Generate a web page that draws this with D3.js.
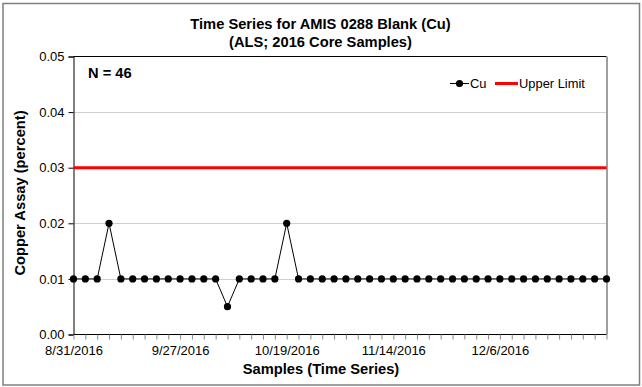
<!DOCTYPE html>
<html>
<head>
<meta charset="utf-8">
<script src="https://cdn.jsdelivr.net/npm/d3@7"></script>
<style>
  html, body { margin: 0; padding: 0; background: #fff; }
  svg { display: block; font-family: Arial, "Liberation Sans", sans-serif; }
</style>
</head>
<body>
<svg id="chart" width="642" height="387"></svg>
<script>
// ---- data ----
const chartTitle = ["Time Series for AMIS 0288 Blank (Cu)", "(ALS; 2016 Core Samples)"];
const xAxisTitle = "Samples (Time Series)";
const yAxisTitle = "Copper Assay (percent)";
const nLabel = "N = 46";
const seriesNames = ["Cu", "Upper Limit"];
const cuValues = [
  0.01, 0.01, 0.01, 0.02, 0.01, 0.01, 0.01, 0.01, 0.01, 0.01,
  0.01, 0.01, 0.01, 0.005, 0.01, 0.01, 0.01, 0.01, 0.02, 0.01,
  0.01, 0.01, 0.01, 0.01, 0.01, 0.01, 0.01, 0.01, 0.01, 0.01,
  0.01, 0.01, 0.01, 0.01, 0.01, 0.01, 0.01, 0.01, 0.01, 0.01,
  0.01, 0.01, 0.01, 0.01, 0.01, 0.01
];
const upperLimitValue = 0.03;
const xTickLabels = ["8/31/2016", "9/27/2016", "10/19/2016", "11/14/2016", "12/6/2016"];
const xLabelEvery = 9;
const yTicks = [0, 0.01, 0.02, 0.03, 0.04, 0.05];

// ---- layout ----
const W = 642, H = 387;
const plot = { left: 73.5, right: 606.5, top: 56.5, bottom: 334.5 };

const svg = d3.select("#chart");

// outer border
svg.append("rect")
  .attr("x", 3).attr("y", 3.5).attr("width", 636.5).attr("height", 381.5)
  .attr("fill", "#fff").attr("stroke", "#7f7f7f").attr("stroke-width", 1.5);

const indices = cuValues.map((d, i) => i);
const x = d3.scalePoint().domain(indices).range([plot.left, plot.right]);
const y = d3.scaleLinear().domain([0, 0.05]).range([plot.bottom, plot.top]);

// gridlines
svg.append("g").selectAll("line")
  .data(yTicks.filter(t => t > 0 && t < 0.05))
  .join("line")
  .attr("x1", plot.left).attr("x2", plot.right)
  .attr("y1", d => Math.round(y(d)) + 0.5).attr("y2", d => Math.round(y(d)) + 0.5)
  .attr("stroke", "#d0d0d0").attr("stroke-width", 1);

// plot border (top/right)
svg.append("line").attr("x1", plot.left).attr("x2", plot.right)
  .attr("y1", plot.top).attr("y2", plot.top).attr("stroke", "#000").attr("stroke-width", 1);
svg.append("line").attr("x1", plot.right + 0.5).attr("x2", plot.right + 0.5)
  .attr("y1", plot.top).attr("y2", plot.bottom).attr("stroke", "#7f7f7f").attr("stroke-width", 1.5);

// y axis
const yAxis = d3.axisLeft(y).tickValues(yTicks).tickFormat(d3.format(".2f")).tickSize(5).tickPadding(4);
const gy = svg.append("g").attr("transform", `translate(${plot.left},0)`).call(yAxis);
gy.select(".domain").attr("stroke", "#000");
gy.selectAll(".tick line").attr("stroke", "#000");
gy.selectAll("text").attr("font-size", "13px").attr("fill", "#000")
  .attr("font-family", "Arial, 'Liberation Sans', sans-serif");

// x axis
const xAxis = d3.axisBottom(x).tickSize(5).tickPadding(4)
  .tickFormat(i => (i % xLabelEvery === 0 ? xTickLabels[i / xLabelEvery] : ""));
const gx = svg.append("g").attr("transform", `translate(0,${plot.bottom})`).call(xAxis);
gx.select(".domain").attr("stroke", "#000").attr("d", `M${plot.left},0H${plot.right}`);
gx.selectAll(".tick line").attr("stroke", "#888");
gx.selectAll("text").attr("font-size", "13px").attr("fill", "#000")
  .attr("font-family", "Arial, 'Liberation Sans', sans-serif").attr("dy", "0.85em");

// upper limit line
svg.append("path")
  .datum(indices)
  .attr("d", d3.line().x(i => x(i)).y(() => y(upperLimitValue)))
  .attr("fill", "none").attr("stroke", "#ff0000").attr("stroke-width", 3);

// Cu series
svg.append("path")
  .datum(cuValues)
  .attr("d", d3.line().x((d, i) => x(i)).y(d => y(d)))
  .attr("fill", "none").attr("stroke", "#000").attr("stroke-width", 1);
svg.append("g").selectAll("circle")
  .data(cuValues)
  .join("circle")
  .attr("cx", (d, i) => x(i)).attr("cy", d => y(d)).attr("r", 3.6)
  .attr("fill", "#000");

// titles
const title = svg.append("text").attr("text-anchor", "middle")
  .attr("font-size", "14.7px").attr("font-weight", "bold").attr("fill", "#000");
title.selectAll("tspan").data(chartTitle).join("tspan")
  .attr("x", 320.5).attr("y", (d, i) => 29 + i * 18).text(d => d);

svg.append("text").attr("x", 321).attr("y", 373.5).attr("text-anchor", "middle")
  .attr("font-size", "14.7px").attr("font-weight", "bold").text(xAxisTitle);

svg.append("text").attr("transform", "translate(25,193) rotate(-90)")
  .attr("text-anchor", "middle")
  .attr("font-size", "14.7px").attr("font-weight", "bold").text(yAxisTitle);

svg.append("text").attr("x", 88).attr("y", 77.5)
  .attr("font-size", "14.7px").attr("font-weight", "bold").text(nLabel);

// legend
const ly = 83.5;
const leg = svg.append("g").attr("font-size", "12.9px");
leg.append("line").attr("x1", 450).attr("x2", 469).attr("y1", ly).attr("y2", ly)
  .attr("stroke", "#000").attr("stroke-width", 1);
leg.append("circle").attr("cx", 459.5).attr("cy", ly).attr("r", 3.6).attr("fill", "#000");
leg.append("text").attr("x", 470).attr("y", ly + 4.5).text(seriesNames[0]);
leg.append("line").attr("x1", 495).attr("x2", 518).attr("y1", ly).attr("y2", ly)
  .attr("stroke", "#ff0000").attr("stroke-width", 3);
leg.append("text").attr("x", 519).attr("y", ly + 4.5).text(seriesNames[1]);
</script>
</body>
</html>
